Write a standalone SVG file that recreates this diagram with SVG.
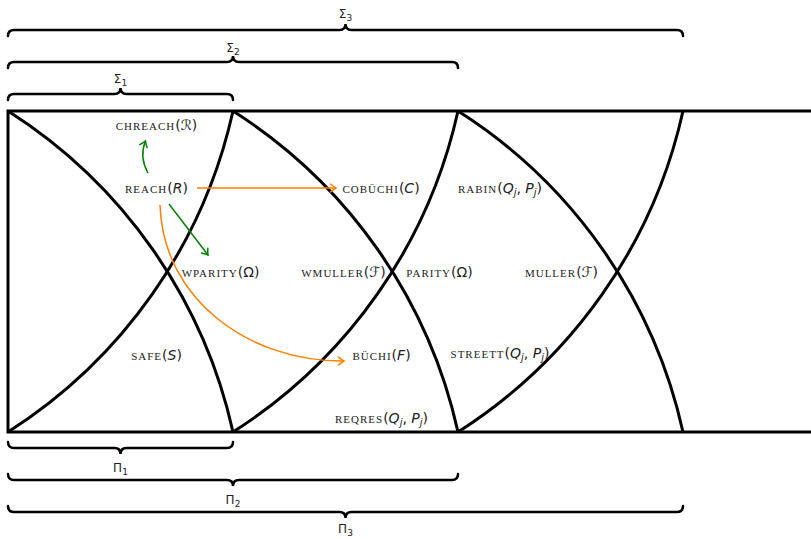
<svg xmlns="http://www.w3.org/2000/svg" width="811" height="539" viewBox="0 0 811 539">
<defs>
<style>
.frame{fill:none;stroke:#000;stroke-width:3;stroke-linejoin:miter}
.brace{fill:none;stroke:#000;stroke-width:2.5;stroke-linecap:round}
.lbl{font-family:"DejaVu Sans","Liberation Sans",sans-serif;font-size:12px;fill:#222;text-anchor:middle}
.sub{font-size:9px}
.node{font-family:"Liberation Serif","DejaVu Serif",serif;font-size:14px;fill:#222;text-anchor:middle}
.sc{font-variant:small-caps;font-family:"Liberation Serif","DejaVu Serif",serif;font-size:15px;letter-spacing:1px}
.m{font-family:"DejaVu Sans","Liberation Sans",sans-serif;font-size:14px;letter-spacing:0}
.mi{font-family:"DejaVu Sans","Liberation Sans",sans-serif;font-style:italic;font-size:14px;letter-spacing:0}
.node .sub{font-size:10px}
.g{fill:none;stroke:#008000;stroke-width:1.5}
.o{fill:none;stroke:#ff8000;stroke-width:1.5}
</style>
<marker id="ag" viewBox="-7 -5 9 10" markerWidth="9" markerHeight="10" refX="0" refY="0" orient="auto" markerUnits="userSpaceOnUse">
<path d="M-5.5,-4 Q-2,-1 0,0 Q-2,1 -5.5,4" fill="none" stroke="#008000" stroke-width="1.5" stroke-linecap="round"/>
</marker>
<marker id="ao" viewBox="-7 -5 9 10" markerWidth="9" markerHeight="10" refX="0" refY="0" orient="auto" markerUnits="userSpaceOnUse">
<path d="M-5.5,-4 Q-2,-1 0,0 Q-2,1 -5.5,4" fill="none" stroke="#ff8000" stroke-width="1.5" stroke-linecap="round"/>
</marker>
</defs>
<rect width="811" height="539" fill="#fff"/>

<g id="frame">
<path class="frame" d="M811,111 H8 V432 H811"/>
<path class="frame" d="M8,111 A511.5,511.5 0 0 1 233,432"/>
<path class="frame" d="M8,432 A511.5,511.5 0 0 0 233,111"/>
<path class="frame" d="M233,111 A511.5,511.5 0 0 1 458,432"/>
<path class="frame" d="M233,432 A511.5,511.5 0 0 0 458,111"/>
<path class="frame" d="M458,111 A511.5,511.5 0 0 1 683,432"/>
<path class="frame" d="M458,432 A511.5,511.5 0 0 0 683,111"/>
</g>

<g id="braces">
<path class="brace" d="M8,100 Q8,94 14,94 H114.5 Q120.5,94 120.5,88 Q120.5,94 126.5,94 H227 Q233,94 233,100"/>
<path class="brace" d="M8,68 Q8,62 14,62 H227 Q233,62 233,56 Q233,62 239,62 H452 Q458,62 458,68"/>
<path class="brace" d="M8,36 Q8,30 14,30 H339.5 Q345.5,30 345.5,24 Q345.5,30 351.5,30 H677 Q683,30 683,36"/>
<path class="brace" d="M8,442 Q8,448 14,448 H114.5 Q120.5,448 120.5,454 Q120.5,448 126.5,448 H227 Q233,448 233,442"/>
<path class="brace" d="M8,474 Q8,480 14,480 H227 Q233,480 233,486 Q233,480 239,480 H452 Q458,480 458,474"/>
<path class="brace" d="M8,506 Q8,512 14,512 H339.5 Q345.5,512 345.5,518 Q345.5,512 351.5,512 H677 Q683,512 683,506"/>
<text class="lbl" x="120.5" y="83">Σ<tspan class="sub" dy="3">1</tspan></text>
<text class="lbl" x="233" y="52">Σ<tspan class="sub" dy="3">2</tspan></text>
<text class="lbl" x="345.5" y="18">Σ<tspan class="sub" dy="3">3</tspan></text>
<text class="lbl" x="120.5" y="472">Π<tspan class="sub" dy="3">1</tspan></text>
<text class="lbl" x="233" y="504">Π<tspan class="sub" dy="3">2</tspan></text>
<text class="lbl" x="345.5" y="533">Π<tspan class="sub" dy="2.5">3</tspan></text>
</g>

<g id="connectors">
<path class="g" d="M148,173 Q139,157 145.5,141" marker-end="url(#ag)"/>
<path class="g" d="M169,204 L208,255" marker-end="url(#ag)"/>
<path class="o" d="M197,188 L336,188" marker-end="url(#ao)"/>
<path class="o" d="M160,205 C163,300 250,362 344,361" marker-end="url(#ao)"/>
</g>

<g id="chreach"><text class="node" x="156.5" y="130"><tspan class="sc">chreach</tspan><tspan class="m">(ℛ)</tspan></text></g>
<g id="reach"><text class="node" x="156.5" y="193"><tspan class="sc">reach</tspan><tspan class="m">(</tspan><tspan class="mi">R</tspan><tspan class="m">)</tspan></text></g>
<g id="wparity"><text class="node" x="220.5" y="277"><tspan class="sc">wparity</tspan><tspan class="m">(Ω)</tspan></text></g>
<g id="cobuchi"><text class="node" x="381" y="193"><tspan class="sc">cobüchi</tspan><tspan class="m">(</tspan><tspan class="mi">C</tspan><tspan class="m">)</tspan></text></g>
<g id="rabin"><text class="node" x="500" y="193"><tspan class="sc">rabin</tspan><tspan class="m">(</tspan><tspan class="mi">Q</tspan><tspan class="mi sub" dy="3">j</tspan><tspan class="m" dy="-3">, </tspan><tspan class="mi">P</tspan><tspan class="mi sub" dy="3">j</tspan><tspan class="m" dy="-3">)</tspan></text></g>
<g id="wmuller"><text class="node" x="343.5" y="277"><tspan class="sc">wmuller</tspan><tspan class="m">(ℱ)</tspan></text></g>
<g id="parity"><text class="node" x="439.5" y="277"><tspan class="sc">parity</tspan><tspan class="m">(Ω)</tspan></text></g>
<g id="muller"><text class="node" x="561.5" y="277"><tspan class="sc">muller</tspan><tspan class="m">(ℱ)</tspan></text></g>
<g id="streett"><text class="node" x="500" y="358"><tspan class="sc">streett</tspan><tspan class="m">(</tspan><tspan class="mi">Q</tspan><tspan class="mi sub" dy="3">j</tspan><tspan class="m" dy="-3">, </tspan><tspan class="mi">P</tspan><tspan class="mi sub" dy="3">j</tspan><tspan class="m" dy="-3">)</tspan></text></g>
<g id="safe"><text class="node" x="156.5" y="360"><tspan class="sc">safe</tspan><tspan class="m">(</tspan><tspan class="mi">S</tspan><tspan class="m">)</tspan></text></g>
<g id="buchi"><text class="node" x="381.5" y="360"><tspan class="sc">büchi</tspan><tspan class="m">(</tspan><tspan class="mi">F</tspan><tspan class="m">)</tspan></text></g>
<g id="reqres"><text class="node" x="381.5" y="423"><tspan class="sc">reqres</tspan><tspan class="m">(</tspan><tspan class="mi">Q</tspan><tspan class="mi sub" dy="3">j</tspan><tspan class="m" dy="-3">, </tspan><tspan class="mi">P</tspan><tspan class="mi sub" dy="3">j</tspan><tspan class="m" dy="-3">)</tspan></text></g>
</svg>
